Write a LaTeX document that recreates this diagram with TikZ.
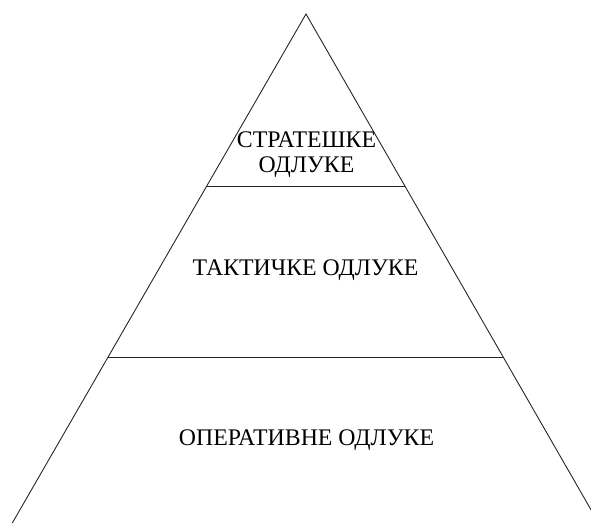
\documentclass[tikz,border=0pt]{standalone}
\usepackage{fontspec}
\setmainfont{Liberation Serif}
\begin{document}
\begin{tikzpicture}[x=1pt,y=1pt,
  edge/.style={draw=black!85,line width=0.9pt},
  lbl/.style={font=\fontsize{23.8}{25}\selectfont,align=center,inner sep=0pt}]
\useasboundingbox (0,0) rectangle (591,523);
\clip (0,0) rectangle (591,523);
\coordinate (apex) at (306,509);
\coordinate (bl) at (12.3,0);
\coordinate (br) at (598.6,0);
\coordinate (t1l) at (207,337);
\coordinate (t1r) at (405,337);
\coordinate (t2l) at (108,166);
\coordinate (t2r) at (503,166);
\draw[edge] (bl) -- (apex) -- (br);
\draw[edge] (t1l) -- (t1r);
\draw[edge] (t2l) -- (t2r);
\node[lbl] (s) at (306.5,368) {СТРАТЕШКЕ\\ОДЛУКЕ};
\node[lbl] (t) at (305.5,253) {ТАКТИЧКЕ ОДЛУКЕ};
\node[lbl] (o) at (306.5,83) {ОПЕРАТИВНЕ ОДЛУКЕ};
\end{tikzpicture}
\end{document}
